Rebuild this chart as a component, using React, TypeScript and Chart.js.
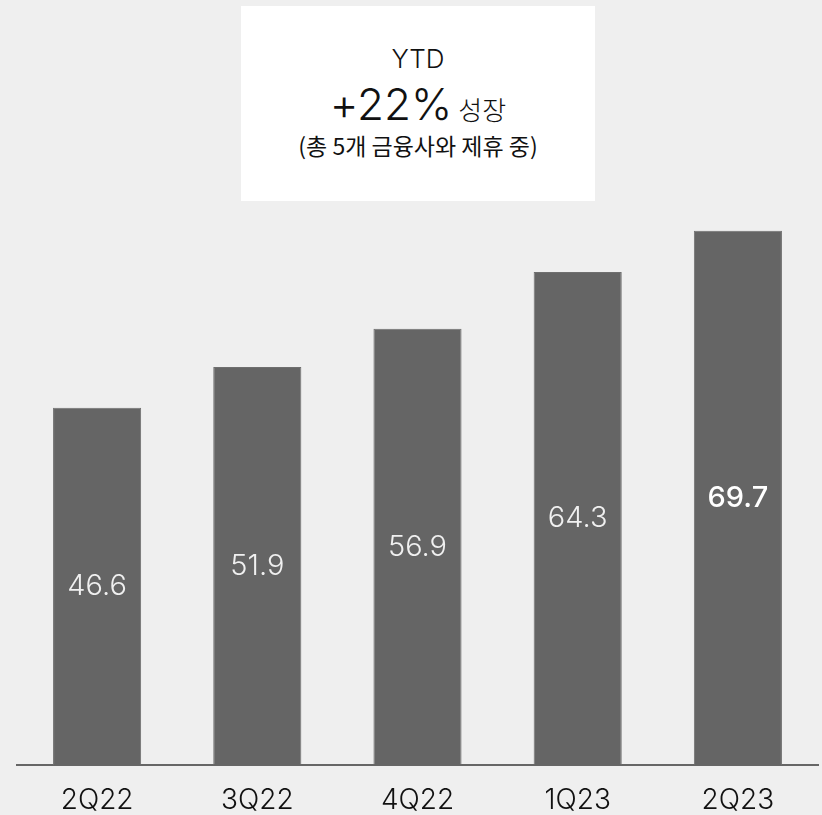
import React, { useEffect, useRef } from "react";
import { Chart, registerables } from "chart.js";

Chart.register(...registerables);

const categories = ["2Q22", "3Q22", "4Q22", "1Q23", "2Q23"];
const values = [46.6, 51.9, 56.9, 64.3, 69.7];
const highlightIndex = 4;
const boxTop = "YTD";
const boxBig = "+22%";
const boxBigSuffix = "성장";
const boxSub = "(총 5개 금융사와 제휴 중)";

const FONT = 'Inter, "Noto Sans", "Liberation Sans", sans-serif';

const valueLabelPlugin = {
  id: "valueLabels",
  afterDatasetsDraw(chart: any) {
    const ctx = chart.ctx;
    const meta = chart.getDatasetMeta(0);
    ctx.save();
    ctx.textAlign = "center";
    ctx.textBaseline = "middle";
    meta.data.forEach((el: any, i: number) => {
      const isHi = i === highlightIndex;
      ctx.font = `${isHi ? 500 : 300} 29px ${FONT}`;
      ctx.fillStyle = isHi ? "#ffffff" : "#f0f0f0";
      const y = (el.y + el.base) / 2;
      ctx.fillText(String(values[i]), el.x, y);
    });
    ctx.restore();
  },
};

export default function App() {
  const canvasRef = useRef<HTMLCanvasElement | null>(null);

  useEffect(() => {
    if (!canvasRef.current) return;
    const chart = new Chart(canvasRef.current, {
      type: "bar",
      data: {
        labels: categories,
        datasets: [
          {
            data: values,
            backgroundColor: "#656565",
            borderColor: "#6f6f6f",
            borderWidth: 1,
            barPercentage: 0.55,
            categoryPercentage: 1,
          },
        ],
      },
      options: {
        animation: false,
        responsive: false,
        maintainAspectRatio: false,
        layout: { padding: { top: 75, left: 17, right: 4, bottom: 1 } },
        plugins: {
          legend: { display: false },
          tooltip: { enabled: false },
          title: { display: false },
        },
        scales: {
          x: {
            grid: { display: false, drawTicks: false },
            border: { display: true, color: "#666666", width: 2 },
            ticks: {
              color: "#111111",
              padding: 22,
              font: { family: FONT, size: 28, weight: 300, lineHeight: 1 },
            },
          },
          y: {
            display: false,
            min: 0,
            max: 90,
          },
        },
      },
      plugins: [valueLabelPlugin],
    });
    return () => chart.destroy();
  }, []);

  return (
    <div
      style={{
        position: "fixed",
        left: 0,
        top: 0,
        width: 822,
        height: 815,
        background: "#efefef",
        overflow: "hidden",
      }}
    >
      <canvas ref={canvasRef} width={822} height={838} style={{ position: "absolute", left: 0, top: 0 }} />
      <div
        style={{
          position: "absolute",
          left: 241,
          top: 6,
          width: 354,
          height: 195,
          background: "#ffffff",
          fontFamily: 'Inter, "Noto Sans CJK KR", sans-serif',
          color: "#111111",
          textAlign: "center",
        }}
      >
        <div style={{ position: "absolute", left: 0, right: 0, top: 37, fontSize: 26, lineHeight: "32px", fontWeight: 300 }}>{boxTop}</div>
        <div style={{ position: "absolute", left: 0, right: 0, top: 70, lineHeight: "56px", whiteSpace: "nowrap" }}>
          <span style={{ fontSize: 44, fontWeight: 300 }}>{boxBig}</span>
          <span style={{ fontSize: 26, marginLeft: 6, fontFamily: '"Noto Sans CJK KR", sans-serif', fontWeight: 300 }}>{boxBigSuffix}</span>
        </div>
        <div
          style={{
            position: "absolute",
            left: 0,
            right: 0,
            top: 124,
            fontSize: 23,
            lineHeight: "30px",
            whiteSpace: "nowrap",
            fontFamily: '"Noto Sans CJK KR", sans-serif',
            fontWeight: 400,
          }}
        >
          {boxSub}
        </div>
      </div>
    </div>
  );
}
